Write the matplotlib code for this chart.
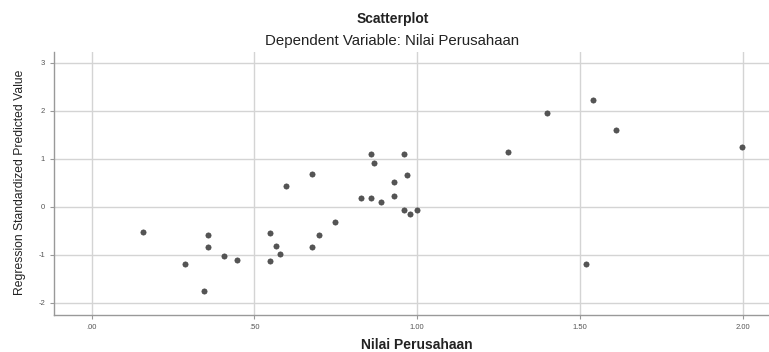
import matplotlib
matplotlib.use("Agg")
import matplotlib.pyplot as plt

# Data
nilai_perusahaan = [0.158, 0.358, 0.358, 0.287, 0.406, 0.447, 0.346, 0.547, 0.567,
                    0.578, 0.547, 0.598, 0.678, 0.678, 0.698, 0.747, 0.827, 0.858,
                    0.888, 0.858, 0.868, 0.959, 0.928, 0.969, 0.928, 0.959, 0.979,
                    0.998, 1.540, 1.399, 1.610, 1.279, 1.999, 1.519]
predicted_value = [-0.53, -0.60, -0.85, -1.20, -1.02, -1.11, -1.76, -0.54, -0.82,
                   -0.99, -1.13, 0.44, 0.69, -0.85, -0.60, -0.31, 0.19, 0.17,
                   0.09, 1.10, 0.90, 1.10, 0.52, 0.65, 0.22, -0.07, -0.16,
                   -0.07, 2.22, 1.94, 1.60, 1.13, 1.24, -1.20]

x_ticks = [0.0, 0.5, 1.0, 1.5, 2.0]
x_tick_labels = [".00", ".50", "1.00", "1.50", "2.00"]
y_ticks = [-2, -1, 0, 1, 2, 3]
y_tick_labels = ["-2", "-1", "0", "1", "2", "3"]

plt.rcParams['font.family'] = ['Liberation Sans', 'DejaVu Sans']

W, H = 769, 352
fig = plt.figure(figsize=(W / 100, H / 100), dpi=100)
ax = fig.add_axes([54/W, 1 - 315/H, 1 - 54/W, (315 - 52)/H])

ax.scatter(nilai_perusahaan, predicted_value, s=14, color='#555555',
           edgecolors='#444444', linewidths=0.5, zorder=3)

ax.set_xlim(-0.116, 2.081)
ax.set_ylim(-2.256, 3.22)
ax.set_xticks(x_ticks)
ax.set_xticklabels(x_tick_labels)
ax.set_yticks(y_ticks)
ax.set_yticklabels(y_tick_labels)
ax.grid(True, color='#d4d4d4', linewidth=1.0, zorder=0)
ax.set_axisbelow(True)

for s in ['top', 'right']:
    ax.spines[s].set_visible(False)
for s in ['left', 'bottom']:
    ax.spines[s].set_color('#999999')
    ax.spines[s].set_linewidth(1.0)

ax.tick_params(axis='both', labelsize=5.5, colors='#999999', labelcolor='#555555',
               length=3, width=0.8)

fig.text(417/W, 1 - 345/H, "Nilai Perusahaan", ha='center', va='center',
         fontsize=10, fontweight='bold', color='#222222')
fig.text(20/W, 1 - 182/H, "Regression Standardized Predicted Value", ha='center', va='center',
         rotation=90, fontsize=8.7, color='#222222')

fig.text(393/W, 1 - 19/H, "Scatterplot", ha='center', va='center',
         fontsize=10, fontweight='bold', color='#222222')
fig.text(392/W, 1 - 41/H, "Dependent Variable: Nilai Perusahaan",
         ha='center', va='center', fontsize=10.8, color='#222222')

fig.savefig("out.png", dpi=100)
